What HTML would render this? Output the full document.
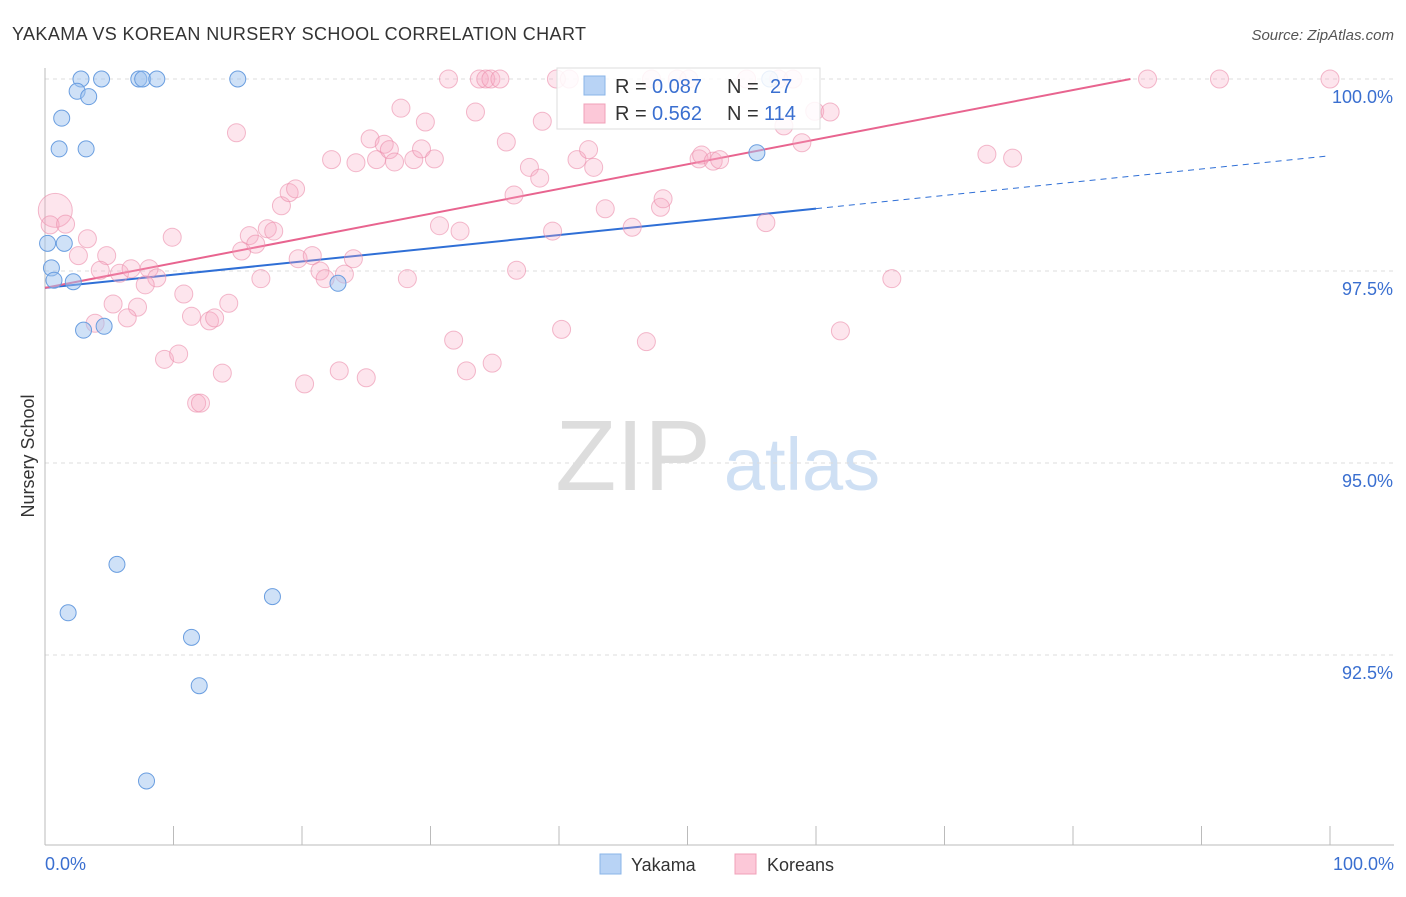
<!DOCTYPE html>
<html><head><meta charset="utf-8">
<style>
body{margin:0;background:#fff;font-family:"Liberation Sans",sans-serif;}
svg text{font-family:"Liberation Sans",sans-serif;}
</style></head>
<body>
<svg id="chart" width="1406" height="892">
<text x="12" y="40" font-size="18" fill="#333" textLength="574">YAKAMA VS KOREAN NURSERY SCHOOL CORRELATION CHART</text>
<text x="1394" y="40" font-size="15" fill="#555" font-style="italic" text-anchor="end">Source: ZipAtlas.com</text>
<text x="0" y="0" transform="translate(34,456) rotate(-90)" font-size="18" fill="#333" text-anchor="middle">Nursery School</text>
<g>
<text x="633" y="490" font-size="100" fill="#ddd" font-family="Liberation Serif" text-anchor="middle">ZIP</text>
<text x="802" y="490" font-size="74" fill="#cfe0f4" text-anchor="middle">atlas</text>
</g>
<g id="grid"></g>
<g id="axes"></g>
<g id="trends"></g>
<g id="points"></g>
<g>
<rect x="557" y="68" width="263" height="61" fill="#fff" fill-opacity="0.85" stroke="#ddd"/>
<rect x="584" y="76" width="21" height="19" fill="#b8d3f5" stroke="#8ab4e8"/>
<text x="615" y="93" font-size="20" fill="#333">R =</text>
<text x="652" y="93" font-size="20" fill="#3a6fd0">0.087</text>
<text x="727" y="93" font-size="20" fill="#333">N =</text>
<text x="770" y="93" font-size="20" fill="#3a6fd0">27</text>
<rect x="584" y="104" width="21" height="19" fill="#fcc8d8" stroke="#f0a0b8"/>
<text x="615" y="120" font-size="20" fill="#333">R =</text>
<text x="652" y="120" font-size="20" fill="#3a6fd0">0.562</text>
<text x="727" y="120" font-size="20" fill="#333">N =</text>
<text x="764" y="120" font-size="20" fill="#3a6fd0">114</text>
</g>
<g>
<rect x="600" y="854" width="21" height="20" fill="#b8d3f5" stroke="#8ab4e8"/>
<text x="631" y="871" font-size="18" fill="#333">Yakama</text>
<rect x="735" y="854" width="21" height="20" fill="#fcc8d8" stroke="#f0a0b8"/>
<text x="767" y="871" font-size="18" fill="#333">Koreans</text>
</g>
</svg>
<script>
const yTicks=[100,97.5,95,92.5];
const yTickLabels=["100.0%","97.5%","95.0%","92.5%"];
const xTickLabels=["0.0%","100.0%"];
const blueX=[2.8,4.4,7.3,7.6,8.7,15.0,2.5,3.4,1.3,1.1,3.2,0.2,1.5,0.5,0.7,2.2,22.8,3.0,4.6,55.4,56.4,5.6,1.8,17.7,11.4,12.0,7.9];
const blueY=[100,100,100,100,100,100,99.84,99.77,99.49,99.09,99.09,97.86,97.86,97.54,97.38,97.36,97.34,96.73,96.78,99.04,100,93.68,93.05,93.26,92.73,92.10,90.86];
const pinkX=[0.8,0.4,1.6,3.3,2.6,4.8,4.3,5.8,6.7,8.1,8.7,7.8,5.3,7.2,3.9,6.4,9.9,10.8,11.4,12.8,13.2,14.3,9.3,10.4,13.8,11.8,12.1,14.9,15.3,15.9,16.4,16.8,17.3,17.8,18.4,19.0,19.5,19.7,20.8,21.4,21.8,23.3,24.0,20.2,22.9,25.0,22.3,24.2,25.3,25.8,26.4,26.8,27.2,27.7,28.2,28.7,29.3,29.6,30.3,30.7,31.4,31.8,32.3,32.8,33.5,33.8,34.3,34.7,35.4,34.8,35.9,36.5,36.7,37.7,38.5,38.7,39.5,39.8,40.2,40.8,41.4,42.3,42.7,43.6,45.7,46.8,47.2,47.9,48.1,49.2,50.1,50.9,51.1,52.0,52.5,54.6,56.1,57.1,57.5,58.2,58.9,59.9,61.1,61.9,65.9,73.3,75.3,85.8,91.4,100];
const pinkY=[98.29,98.10,98.11,97.92,97.70,97.70,97.51,97.47,97.53,97.53,97.41,97.32,97.07,97.03,96.82,96.89,97.94,97.20,96.91,96.85,96.89,97.08,96.35,96.42,96.17,95.78,95.78,99.30,97.76,97.96,97.85,97.40,98.05,98.02,98.35,98.52,98.57,97.66,97.70,97.50,97.40,97.46,97.66,96.03,96.20,96.11,98.95,98.91,99.22,98.95,99.15,99.08,98.92,99.62,97.40,98.95,99.09,99.44,98.96,98.09,100,96.60,98.02,96.20,99.57,100,100,100,100,96.30,99.18,98.49,97.51,98.85,98.71,99.45,98.02,100,96.74,100,98.95,99.08,98.85,98.31,98.07,96.58,100,98.33,98.44,100,100,98.96,99.01,98.93,98.95,100,98.13,100,99.39,100,99.17,99.58,99.57,96.72,97.40,99.02,98.97,100,100,100];
const pinkR=[17,9,9,9,9,9,9,9,9,9,9,9,9,9,9,9,9,9,9,9,9,9,9,9,9,9,9,9,9,9,9,9,9,9,9,9,9,9,9,9,9,9,9,9,9,9,9,9,9,9,9,9,9,9,9,9,9,9,9,9,9,9,9,9,9,9,9,9,9,9,9,9,9,9,9,9,9,9,9,9,9,9,9,9,9,9,9,9,9,9,9,9,9,9,9,9,9,9,9,9,9,9,9,9,9,9,9,9,9,9];
const blueTrend=[97.28,99.0];
const pinkTrend=[97.28,100.5];
const NS="http://www.w3.org/2000/svg";
const X0=45,X1=1330,YB=845;
const sx=v=>X0+(v/100)*(X1-X0);
const sy=v=>79+(100-v)*76.8;
function mk(tag,attrs,parent){const e=document.createElementNS(NS,tag);for(const k in attrs)e.setAttribute(k,attrs[k]);parent.appendChild(e);return e;}
const grid=document.getElementById('grid'),axes=document.getElementById('axes');
yTicks.forEach((t,i)=>{
 const l=mk('line',{x1:X0,x2:1394,y1:sy(t),y2:sy(t),stroke:'#ddd','stroke-dasharray':'4,4'},grid);
 
 
 const tx=mk('text',{x:1393,y:sy(t)+24,'font-size':18,fill:'#3a6fd0','text-anchor':'end'},axes);
 tx.textContent=yTickLabels[i];
 
 
});
const ax=mk('line',{x1:X0,x2:X0,y1:68,y2:YB,stroke:'#bbb'},axes);


const bx=mk('line',{x1:X0,x2:1394,y1:YB,y2:YB,stroke:'#bbb'},axes);


for(let i=0;i<=10;i++){
 const t=mk('line',{x1:sx(i*10),x2:sx(i*10),y1:826,y2:YB,stroke:'#bbb'},axes);
 
 
}
[[0,'start',45],[100,'end',1394]].forEach((a,i)=>{
 const t=mk('text',{x:a[2],y:870,'font-size':18,fill:'#3a6fd0','text-anchor':a[1]},axes);
 t.textContent=xTickLabels[i];
 
 
});
const pts=document.getElementById('points');
pinkX.forEach((x,i)=>{
 const c=mk('circle',{cx:sx(x),cy:sy(pinkY[i]),r:pinkR[i],fill:'rgba(248,170,195,0.3)',stroke:'rgba(235,140,170,0.6)','stroke-width':1},pts);
 
 
});
blueX.forEach((x,i)=>{
 const c=mk('circle',{cx:sx(x),cy:sy(blueY[i]),r:8,fill:'rgba(160,195,240,0.5)',stroke:'#6a9ee0','stroke-width':1},pts);
 
 
});
const tr=document.getElementById('trends');
const bAt=x=>blueTrend[0]+(blueTrend[1]-blueTrend[0])*x/100;
const b1=mk('line',{x1:sx(0),y1:sy(bAt(0)),x2:sx(60),y2:sy(bAt(60)),stroke:'#2f6fd6','stroke-width':2},tr);


const b2=mk('line',{x1:sx(60),y1:sy(bAt(60)),x2:sx(100),y2:sy(bAt(100)),stroke:'#2f6fd6','stroke-width':1,'stroke-dasharray':'6,5'},tr);


const pSlope=(pinkTrend[1]-pinkTrend[0])/100;
const xEnd=Math.min(100,(100-pinkTrend[0])/pSlope);
const p1=mk('line',{x1:sx(0),y1:sy(pinkTrend[0]),x2:sx(xEnd),y2:sy(pinkTrend[0]+pSlope*xEnd),stroke:'#e8648f','stroke-width':2},tr);


</script>
</body></html>
